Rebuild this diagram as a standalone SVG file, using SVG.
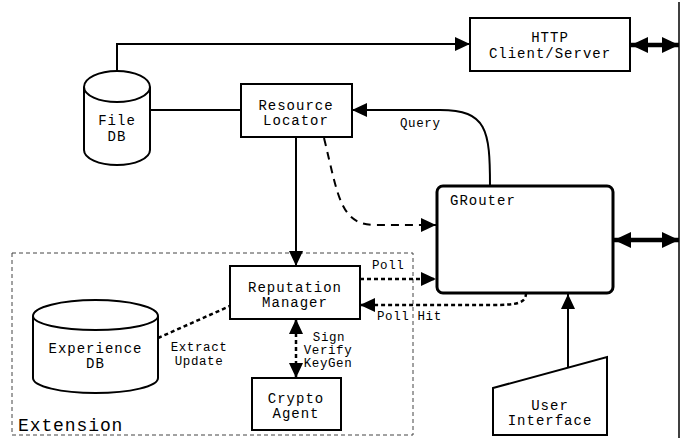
<svg xmlns="http://www.w3.org/2000/svg" width="681" height="441" viewBox="0 0 681 441">
  <style>
    .box { fill: #fff; stroke: #000; stroke-width: 2; }
    .t { font-family: "Liberation Mono", "Courier New", monospace; font-size: 14px; letter-spacing: 1px; fill: #000; text-anchor: middle; }
    .ts { font-family: "Liberation Mono", "Courier New", monospace; font-size: 14px; letter-spacing: 1px; fill: #000; }
    .lbl { font-family: "Liberation Mono", "Courier New", monospace; font-size: 12.5px; letter-spacing: 0.6px; fill: #000; }
    .lc { text-anchor: middle; }
    .ln { fill: none; stroke: #000; stroke-width: 2; }
    .dash { fill: none; stroke: #000; stroke-width: 2; stroke-dasharray: 8 6; }
    .dot { fill: none; stroke: #000; stroke-width: 2.5; stroke-dasharray: 4 3; }
    .thick { fill: none; stroke: #000; stroke-width: 4.5; }
  </style>
  <defs>
    <marker id="arr" markerUnits="userSpaceOnUse" markerWidth="15" markerHeight="14" refX="15" refY="7" orient="auto-start-reverse">
      <path d="M0,0 L15,7 L0,14 z" fill="#000"/>
    </marker>
    <marker id="big" markerUnits="userSpaceOnUse" markerWidth="17" markerHeight="16" refX="17" refY="8" orient="auto-start-reverse">
      <path d="M0,0 L17,8 L0,16 z" fill="#000"/>
    </marker>
  </defs>

  <!-- network boundary -->
  <line x1="679" y1="2" x2="679" y2="438" stroke="#000" stroke-width="1.5"/>

  <!-- extension region -->
  <g id="extension">
    <rect x="12" y="253" width="401" height="182" fill="none" stroke="#444" stroke-width="1" stroke-dasharray="4 3"/>
    <text x="18" y="431" font-family="Liberation Mono, Courier New, monospace" font-size="18px" letter-spacing="0.9" fill="#000">Extension</text>
  </g>

  <g id="connectors">
    <!-- File DB to HTTP -->
    <path class="ln" d="M117,71 L117,44 L470,44" marker-end="url(#arr)"/>
    <!-- File DB to Resource Locator -->
    <path class="ln" d="M150,110 L241,110"/>
    <!-- Query -->
    <path class="ln" d="M490,186 C490,130 487,110 440,110 L352,110" marker-end="url(#arr)"/>
    <text class="lbl" x="400" y="127">Query</text>
    <!-- Resource Locator to GRouter -->
    <path class="dash" d="M324,138 C338,195 340,225 375,225 L436,225" marker-end="url(#arr)"/>
    <!-- Resource Locator to Reputation Manager -->
    <path class="ln" d="M296,137 L296,266" marker-end="url(#arr)"/>
    <!-- Poll -->
    <path class="dot" d="M360,279 L436,279" marker-end="url(#arr)"/>
    <text class="lbl" x="372" y="269">Poll</text>
    <!-- Poll Hit -->
    <path class="dot" d="M526,293 C526,303 518,305 492,305 L360,305" marker-end="url(#arr)"/>
    <text class="lbl" x="377" y="320">Poll Hit</text>
    <!-- Experience DB link -->
    <path class="dot" d="M158,338 L230,306"/>
    <text class="lbl lc" x="199" y="351">Extract</text>
    <text class="lbl lc" x="199" y="365">Update</text>
    <!-- Crypto link -->
    <path class="dot" d="M296,319 L296,378" marker-start="url(#arr)" marker-end="url(#arr)"/>
    <text class="lbl lc" x="329" y="341">Sign</text>
    <text class="lbl lc" x="328" y="354">Verify</text>
    <text class="lbl lc" x="328" y="367">KeyGen</text>
    <!-- User Interface to GRouter -->
    <path class="ln" d="M568,367 L568,294" marker-end="url(#arr)"/>
    <!-- External links -->
    <path class="thick" d="M631,45 L679,45" marker-start="url(#big)" marker-end="url(#big)"/>
    <path class="thick" d="M614,240 L679,240" marker-start="url(#big)" marker-end="url(#big)"/>
  </g>

  <g id="http">
    <rect class="box" x="470" y="18" width="160" height="53"/>
    <text class="t" x="550" y="42">HTTP</text>
    <text class="t" x="550" y="58">Client/Server</text>
  </g>

  <g id="file-db">
    <path class="box" d="M84,87 A33,16 0 0 1 150,87 L150,150 A33,15 0 0 1 84,150 Z"/>
    <path class="ln" d="M84,87 A33,15 0 0 0 150,87"/>
    <text class="t" x="117" y="125">File</text>
    <text class="t" x="117" y="141">DB</text>
  </g>

  <g id="resource-locator">
    <rect class="box" x="241" y="84" width="111" height="53"/>
    <text class="t" x="296" y="110">Resource</text>
    <text class="t" x="296" y="125">Locator</text>
  </g>

  <g id="grouter">
    <rect x="437" y="186" width="176" height="107" rx="6" fill="#fff" stroke="#000" stroke-width="3"/>
    <text class="ts" x="450" y="205">GRouter</text>
  </g>

  <g id="reputation-manager">
    <rect class="box" x="230" y="266" width="130" height="53"/>
    <text class="t" x="295" y="292">Reputation</text>
    <text class="t" x="295" y="307">Manager</text>
  </g>

  <g id="experience-db">
    <path class="box" d="M33,316 A62.5,16 0 0 1 158,316 L158,378 A62.5,15 0 0 1 33,378 Z"/>
    <path class="ln" d="M33,316 A62.5,14 0 0 0 158,316"/>
    <text class="t" x="95.5" y="353">Experience</text>
    <text class="t" x="95.5" y="368">DB</text>
  </g>

  <g id="crypto-agent">
    <rect class="box" x="252" y="378" width="89" height="52"/>
    <text class="t" x="296" y="403">Crypto</text>
    <text class="t" x="296" y="418">Agent</text>
  </g>

  <g id="user-interface">
    <path class="box" d="M493,388 L607,357 L607,435 L493,435 Z"/>
    <text class="t" x="550" y="410">User</text>
    <text class="t" x="550" y="425">Interface</text>
  </g>
</svg>
